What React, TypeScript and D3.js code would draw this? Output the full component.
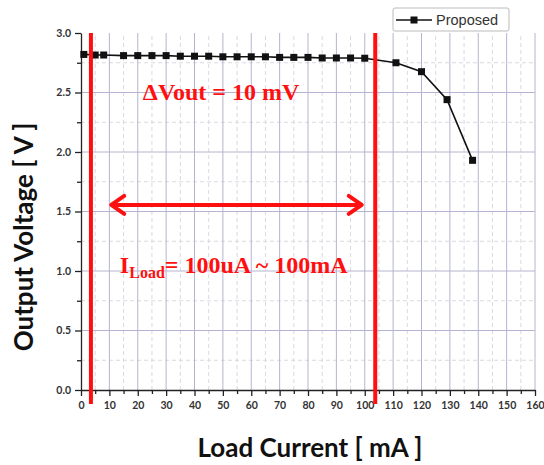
import { useRef, useEffect } from 'react';
import * as d3 from 'd3';

// Load current [mA] and output voltage [V]
const loadCurrent = [1, 5, 8, 15, 20, 25, 30, 35, 40, 45, 50, 55, 60, 65, 70, 75, 80, 85, 90, 95, 100, 111, 120, 129, 138];
const outputVoltage = [2.82, 2.815, 2.815, 2.81, 2.81, 2.81, 2.81, 2.805, 2.805, 2.805, 2.8, 2.8, 2.8, 2.8, 2.795, 2.795, 2.795, 2.79, 2.79, 2.79, 2.788, 2.75, 2.675, 2.44, 1.93];

const xTicks = d3.range(0, 161, 10);
const yTicks = [0, 0.5, 1.0, 1.5, 2.0, 2.5, 3.0];

// annotation positions in data units
const rangeLines = [3.5, 103.7];
const arrowSpan = [10.3, 99.3];
const arrowLevel = 1.555;

const App = () => {
  const svgRef = useRef<SVGSVGElement>(null);

  useEffect(() => {
    const width = 544;
    const height = 465;
    const svg = d3.select(svgRef.current);
    svg.selectAll('*').remove();
    svg.attr('viewBox', `0 0 ${width} ${height}`);

    svg.append('rect').attr('width', width).attr('height', height).attr('fill', '#fff');

    const x = d3.scaleLinear().domain([0, 160]).range([81, 535]);
    const y = d3.scaleLinear().domain([0, 3]).range([390, 33]);

    const grid = svg.append('g');
    // minor grid (dashed)
    grid.selectAll('.vminor')
      .data(d3.range(5, 160, 10))
      .enter().append('line')
      .attr('x1', d => x(d)).attr('x2', d => x(d))
      .attr('y1', y(0)).attr('y2', y(3))
      .attr('stroke', '#d9d9e0').attr('stroke-width', 1).attr('stroke-dasharray', '4,3');
    grid.selectAll('.hminor')
      .data(d3.range(0.25, 3, 0.5))
      .enter().append('line')
      .attr('x1', x(0)).attr('x2', x(160))
      .attr('y1', d => y(d)).attr('y2', d => y(d))
      .attr('stroke', '#d9d9e0').attr('stroke-width', 1).attr('stroke-dasharray', '4,3');
    // major grid
    grid.selectAll('.vmajor')
      .data(xTicks.slice(1))
      .enter().append('line')
      .attr('x1', d => x(d)).attr('x2', d => x(d))
      .attr('y1', y(0)).attr('y2', y(3))
      .attr('stroke', '#b4b4d2').attr('stroke-width', 1);
    grid.selectAll('.hmajor')
      .data(yTicks.slice(1, -1))
      .enter().append('line')
      .attr('x1', x(0)).attr('x2', x(160))
      .attr('y1', d => y(d)).attr('y2', d => y(d))
      .attr('stroke', '#b4b4d2').attr('stroke-width', 1);

    // axes
    const xAxis = svg.append('g')
      .attr('transform', `translate(0,${y(0)})`)
      .call(d3.axisBottom(x).tickValues(xTicks).tickSize(6).tickPadding(6).tickSizeOuter(0));
    svg.append('g')
      .attr('transform', `translate(0,${y(0)})`)
      .call(d3.axisBottom(x).tickValues(d3.range(5, 160, 10)).tickSize(4).tickFormat(() => '').tickSizeOuter(0))
      .select('.domain').remove();
    const yAxis = svg.append('g')
      .attr('transform', `translate(${x(0)},0)`)
      .call(d3.axisLeft(y).tickValues(yTicks).tickFormat(d3.format('.1f')).tickSize(6).tickPadding(4).tickSizeOuter(0));
    svg.append('g')
      .attr('transform', `translate(${x(0)},0)`)
      .call(d3.axisLeft(y).tickValues(d3.range(0.25, 3, 0.5)).tickSize(4).tickFormat(() => '').tickSizeOuter(0))
      .select('.domain').remove();

    [xAxis, yAxis].forEach(a => {
      a.select('.domain').attr('stroke', '#222').attr('stroke-width', 1.3);
      a.selectAll('text')
        .attr('fill', '#333')
        .style('font-family', 'Lato, sans-serif')
        .style('font-weight', '700')
        .style('font-size', '10.5px');
    });
    svg.selectAll('.tick line').attr('stroke', '#222').attr('stroke-width', 1.3);

    // data series
    const pts = loadCurrent.map((c, i) => [c, outputVoltage[i]] as [number, number]);
    const line = d3.line<[number, number]>().x(d => x(d[0])).y(d => y(d[1]));
    svg.append('path')
      .datum(pts)
      .attr('d', line)
      .attr('fill', 'none')
      .attr('stroke', '#111')
      .attr('stroke-width', 1.6);
    svg.selectAll('.pt')
      .data(pts)
      .enter().append('rect')
      .attr('x', d => x(d[0]) - 3.5)
      .attr('y', d => y(d[1]) - 3.5)
      .attr('width', 7).attr('height', 7)
      .attr('fill', '#111');

    // red annotations
    const red = '#ff1010';
    svg.selectAll('.rl')
      .data(rangeLines)
      .enter().append('line')
      .attr('x1', d => x(d)).attr('x2', d => x(d))
      .attr('y1', y(3)).attr('y2', y(0) + 14)
      .attr('stroke', red).attr('stroke-width', 4);

    const ay = y(arrowLevel);
    const ax0 = x(arrowSpan[0]);
    const ax1 = x(arrowSpan[1]);
    svg.append('line')
      .attr('x1', ax0 + 2).attr('x2', ax1 - 2)
      .attr('y1', ay).attr('y2', ay)
      .attr('stroke', red).attr('stroke-width', 4);
    svg.append('path')
      .attr('d', `M${ax0 + 14},${ay - 9}L${ax0 + 1},${ay}L${ax0 + 14},${ay + 9}`)
      .attr('fill', 'none').attr('stroke', red).attr('stroke-width', 4)
      .attr('stroke-linecap', 'round').attr('stroke-linejoin', 'round');
    svg.append('path')
      .attr('d', `M${ax1 - 14},${ay - 9}L${ax1 - 1},${ay}L${ax1 - 14},${ay + 9}`)
      .attr('fill', 'none').attr('stroke', red).attr('stroke-width', 4)
      .attr('stroke-linecap', 'round').attr('stroke-linejoin', 'round');

    svg.append('text')
      .attr('x', x(21.8)).attr('y', y(2.44))
      .attr('fill', red)
      .style('font-family', '"Liberation Serif", serif')
      .style('font-weight', '700')
      .style('font-size', '24px')
      .text('ΔVout = 10 mV');

    const il = svg.append('text')
      .attr('x', x(13.7)).attr('y', y(0.98))
      .attr('fill', red)
      .style('font-family', '"Liberation Serif", serif')
      .style('font-weight', '700')
      .style('font-size', '24px');
    il.append('tspan').text('I');
    il.append('tspan').attr('dy', 5).style('font-size', '16px').text('Load');
    il.append('tspan').attr('dy', -5).text('= 100uA ~ 100mA');

    // legend
    const lg = svg.append('g').attr('transform', 'translate(393,8)');
    lg.append('rect')
      .attr('width', 116).attr('height', 23).attr('rx', 2)
      .attr('fill', '#fff').attr('stroke', '#bbb').attr('stroke-width', 1);
    lg.append('line')
      .attr('x1', 3).attr('x2', 39).attr('y1', 12).attr('y2', 12)
      .attr('stroke', '#111').attr('stroke-width', 1.6);
    lg.append('rect')
      .attr('x', 17.5).attr('y', 8.5).attr('width', 7).attr('height', 7).attr('fill', '#111');
    lg.append('text')
      .attr('x', 43).attr('y', 17)
      .attr('fill', '#333')
      .style('font-family', '"Liberation Sans", Arial, sans-serif')
      .style('font-size', '14.5px')
      .text('Proposed');

    // axis titles
    svg.append('text')
      .attr('x', 310).attr('y', 457)
      .attr('text-anchor', 'middle')
      .attr('fill', '#111')
      .style('font-family', 'Lato, sans-serif')
      .style('font-weight', '700')
      .style('font-size', '26px')
      .text('Load Current [ mA ]');
    svg.append('text')
      .attr('transform', 'translate(33,237) rotate(-90)')
      .attr('text-anchor', 'middle')
      .attr('fill', '#111')
      .style('font-family', 'Lato, sans-serif')
      .style('font-weight', '700')
      .style('font-size', '26px')
      .text('Output Voltage [ V ]');
  }, []);

  return (
    <div style={{ position: 'fixed', left: 0, top: 0 }}>
      <svg ref={svgRef} width={544} height={465} style={{ display: 'block' }}></svg>
    </div>
  );
};

export default App;
